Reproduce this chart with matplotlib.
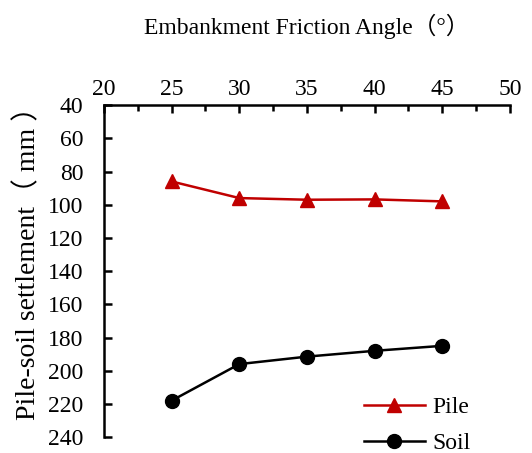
import numpy as np
import matplotlib.pyplot as plt

angles = [25, 30, 35, 40, 45]
pile = [86, 96, 97, 96.8, 98]
soil = [218, 196, 191.5, 188, 185]

plt.rcParams['font.family'] = ['Liberation Serif', 'Noto Sans CJK SC']

fig = plt.figure(figsize=(5.32, 4.53), dpi=100)
ax = fig.add_axes([0.1955, 0.035, 0.763, 0.733])

ax.plot(angles, pile, color='#c00000', marker='^', markersize=10, lw=1.8, label='Pile')
ax.plot(angles, soil, color='black', marker='o', markersize=10, lw=1.8, label='Soil')

ax.set_xlim(20, 50)
ax.set_ylim(240, 40)
ax.set_xticks(np.arange(20, 51, 5))
ax.set_xticks(np.arange(22.5, 50, 5), minor=True)
ax.set_yticks(np.arange(40, 241, 20))

ax.xaxis.tick_top()
ax.xaxis.set_label_position('top')
ax.spines['right'].set_visible(False)
ax.spines['bottom'].set_visible(False)
for s in ('left', 'top'):
    ax.spines[s].set_linewidth(1.8)

ax.tick_params(axis='both', which='major', direction='in', length=6, width=1.8,
               labelsize=17)
ax.tick_params(axis='x', which='major', pad=4)
ax.tick_params(axis='y', which='major', pad=15)
ax.tick_params(axis='x', which='minor', direction='in', length=4, width=1.8)

ax.set_xlabel('Embankment Friction Angle（°）', fontsize=17, labelpad=32)
ax.set_ylabel('Pile-soil settlement（ mm ）', fontsize=20)
ax.yaxis.set_label_coords(-0.155, 0.545)

ax.legend(loc='lower right', frameon=False, fontsize=17, handlelength=2.6,
          handletextpad=0.3, labelspacing=0.6, bbox_to_anchor=(0.955, -0.115))

fig.savefig('out.png', dpi=100)
